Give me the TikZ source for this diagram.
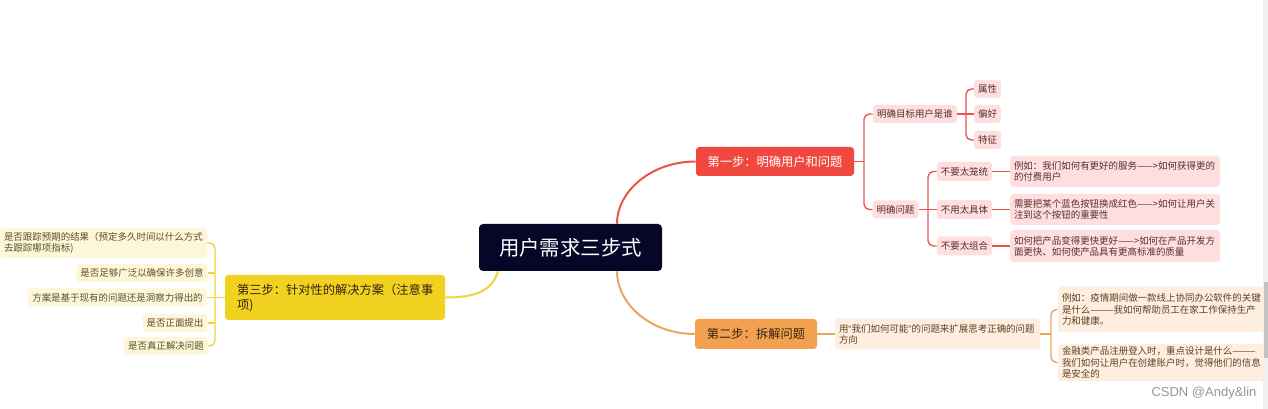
\documentclass[tikz,border=0pt]{standalone}
\usepackage{fontspec}
\setmainfont{Noto Sans CJK SC}
\newfontfamily\lat{Liberation Sans}
\usetikzlibrary{calc}
\newcommand\oneline[1]{\mbox{#1}}
\definecolor{rootc}{RGB}{6,6,40}
\definecolor{redc}{RGB}{240,72,62}
\definecolor{redline}{RGB}{232,84,74}
\definecolor{pinkc}{RGB}{252,223,222}
\definecolor{pinktext}{RGB}{95,45,45}
\definecolor{orac}{RGB}{243,160,80}
\definecolor{oraline}{RGB}{236,165,95}
\definecolor{peachc}{RGB}{253,238,224}
\definecolor{peachtext}{RGB}{95,65,35}
\definecolor{yelc}{RGB}{242,210,32}
\definecolor{yelline}{RGB}{240,212,60}
\definecolor{creamc}{RGB}{253,246,216}
\definecolor{creamtext}{RGB}{90,80,40}
\definecolor{darktext}{RGB}{50,35,15}
\definecolor{wmc}{RGB}{150,150,150}
\definecolor{sbar}{RGB}{240,240,240}
\definecolor{sthumb}{RGB}{195,195,195}
\begin{document}
\begin{tikzpicture}[x=0.75pt,y={(0pt,-0.75pt)},
  rootbox/.style={fill=rootc,text=white,rounded corners=3pt,inner sep=0pt,
    minimum width=137.25pt,minimum height=35.25pt,font=\fontsize{15.3}{18}\selectfont},
  stepbox/.style={rounded corners=2.5pt,inner sep=0pt,font=\fontsize{9.2}{11.25}\selectfont},
  leaf/.style={rounded corners=2.5pt,inner xsep=3pt,inner ysep=0pt,align=left,
    font=\fontsize{7.1}{8.4}\selectfont},
  leafR/.style={leaf,fill=pinkc,text=pinktext},
  leafO/.style={leaf,fill=peachc,text=peachtext},
  leafY/.style={leaf,fill=creamc,text=creamtext},
  mainR/.style={draw=redline,line width=1.5pt},
  mainO/.style={draw=oraline,line width=1.5pt},
  mainY/.style={draw=yelline,line width=1.5pt},
  subR/.style={draw=redline,line width=1pt},
  subO/.style={draw=oraline,line width=1pt},
  subY/.style={draw=yelline,line width=1pt},
  rc/.style={rounded corners=4pt}]
\path[use as bounding box,fill=white] (0,0) rectangle (1268,409);
\begin{scope}
\clip (0,0) rectangle (1268,409);
% nodes
\node[rootbox] (root) at (570.5,247.5) {用户需求三步式};
\node[stepbox,fill=redc,text=white,minimum width=118.5pt,minimum height=21.75pt] (s1) at (775,161.5) {第一步：明确用户和问题};
\node[stepbox,fill=orac,text=darktext,minimum width=91.5pt,minimum height=22.5pt] (s2) at (756,334) {第二步：拆解问题};
\node[stepbox,fill=yelc,text=darktext,minimum width=165pt,minimum height=33.75pt,text width=147pt,inner xsep=9pt,align=left] (s3) at (335,297.5) {\oneline{第三步：针对性的解决方案（注意事}\\项)};
% step 1 children
\node[leafR,minimum width=63pt,minimum height=13.5pt] (a1) at (915,114) {明确目标用户是谁};
\node[leafR,minimum width=33.75pt,minimum height=13.5pt] (a2) at (895.5,209.5) {明确问题};
\node[leafR,minimum width=19.5pt,minimum height=13.5pt] (p1) at (987.5,89) {属性};
\node[leafR,minimum width=19.5pt,minimum height=13.5pt] (p2) at (987.5,114) {偏好};
\node[leafR,minimum width=19.5pt,minimum height=13.5pt] (p3) at (987.5,140) {特征};
\node[leafR,minimum width=41.25pt,minimum height=14.25pt] (b1) at (964.5,171.5) {不要太笼统};
\node[leafR,minimum width=41.25pt,minimum height=14.25pt] (b2) at (964.5,209.5) {不用太具体};
\node[leafR,minimum width=41.25pt,minimum height=14.25pt] (b3) at (964.5,246) {不要太组合};
\node[leafR,text width=151.5pt,minimum height=23.25pt] (c1) at (1115,171.5) {\oneline{例如：我们如何有更好的服务——>如何获得更的}\\\oneline{的付费用户}};
\node[leafR,text width=151.5pt,minimum height=23.25pt] (c2) at (1115,209.5) {\oneline{需要把某个蓝色按钮换成红色——>如何让用户关}\\\oneline{注到这个按钮的重要性}};
\node[leafR,text width=151.5pt,minimum height=24pt] (c3) at (1115,246) {\oneline{如何把产品变得更快更好——>如何在产品开发方}\\\oneline{面更快、如何使产品具有更高标准的质量}};
% step 2 children
\node[leafO,text width=147.75pt,minimum height=23.25pt] (d) at (937.5,334) {\oneline{用{\lat “}我们如何可能{\lat ”}的问题来扩展思考正确的问题}\\方向};
\node[leafO,text width=155.25pt,minimum height=33.75pt] (e1) at (1165.5,309.5) {\oneline{例如：疫情期间做一款线上协同办公软件的关键}\\\oneline{是什么———我如何帮助员工在家工作保持生产}\\\oneline{力和健康。}};
\node[leafO,text width=155.25pt,minimum height=27.75pt] (e2) at (1165.5,362.5) {\oneline{金融类产品注册登入时，重点设计是什么———}\\\oneline{我们如何让用户在创建账户时，觉得他们的信息}\\\oneline{是安全的}};
% step 3 children
\node[leafY,text width=149.25pt,minimum height=22.5pt] (t1) at (103.5,243) {\oneline{是否跟踪预期的结果（预定多久时间以什么方式}\\\oneline{去跟踪哪项指标)}};
\node[leafY,minimum width=97.5pt,minimum height=13.5pt] (t2) at (142,273) {是否足够广泛以确保许多创意};
\node[leafY,minimum width=134.25pt,minimum height=13.5pt] (t3) at (117.5,297.5) {方案是基于现有的问题还是洞察力得出的};
\node[leafY,minimum width=48pt,minimum height=13.5pt] (t4) at (175,323) {是否正面提出};
\node[leafY,minimum width=61.5pt,minimum height=13.5pt] (t5) at (166,346) {是否真正解决问题};
% main branches
\draw[mainR] ($(root.north)+(46.5,0)$) .. controls +(0,-32) and +(-45,0) .. (s1.west);
\draw[mainO] ($(root.south)+(46.5,0)$) .. controls +(0,32) and +(-45,0) .. (s2.west);
\draw[mainY] ($(root.south)+(-72.5,0)$) .. controls +(-6,20) and +(30,0) .. (s3.east);
% step 1 connectors
\coordinate (j1) at (864,161.5);
\draw[subR] (s1.east) -- (j1);
\draw[subR,rc] (a1.west) -| (j1) |- (a2.west);
\coordinate (j2) at (966,114);
\draw[subR] (a1.east) -- (p2.west);
\draw[subR,rc] (p1.west) -| (j2) |- (p3.west);
\coordinate (j3) at (928,209.5);
\draw[subR] (a2.east) -- (b2.west);
\draw[subR,rc] (b1.west) -| (j3) |- (b3.west);
\draw[subR] (b1.east) -- (c1.west);
\draw[subR] (b2.east) -- (c2.west);
\draw[subR] (b3.east) -- (c3.west);
% step 2 connectors
\draw[subO] (s2.east) -- (d.west);
\coordinate (j5) at (1051,334);
\draw[subO] (d.east) -- (j5);
\draw[subO,rc] (e1.west) -| (j5) |- (e2.west);
% step 3 connectors
\coordinate (j4) at (215,297.5);
\draw[subY] (s3.west) -- (t3.east);
\draw[subY,rc] (t1.east) -| (j4) |- (t5.east);
\draw[subY] (t2.east) -- (t2.east -| j4);
\draw[subY] (t4.east) -- (t4.east -| j4);
% scrollbar and watermark
\fill[sbar] (1263,0) rectangle (1268,409);
\fill[sthumb] (1264,282) rectangle (1268,358);
\node[font=\lat\fontsize{9.75}{11}\selectfont,text=wmc,inner sep=0pt] (wm) at (1204,393) {CSDN @Andy\&lin};
\end{scope}
\end{tikzpicture}
\end{document}
